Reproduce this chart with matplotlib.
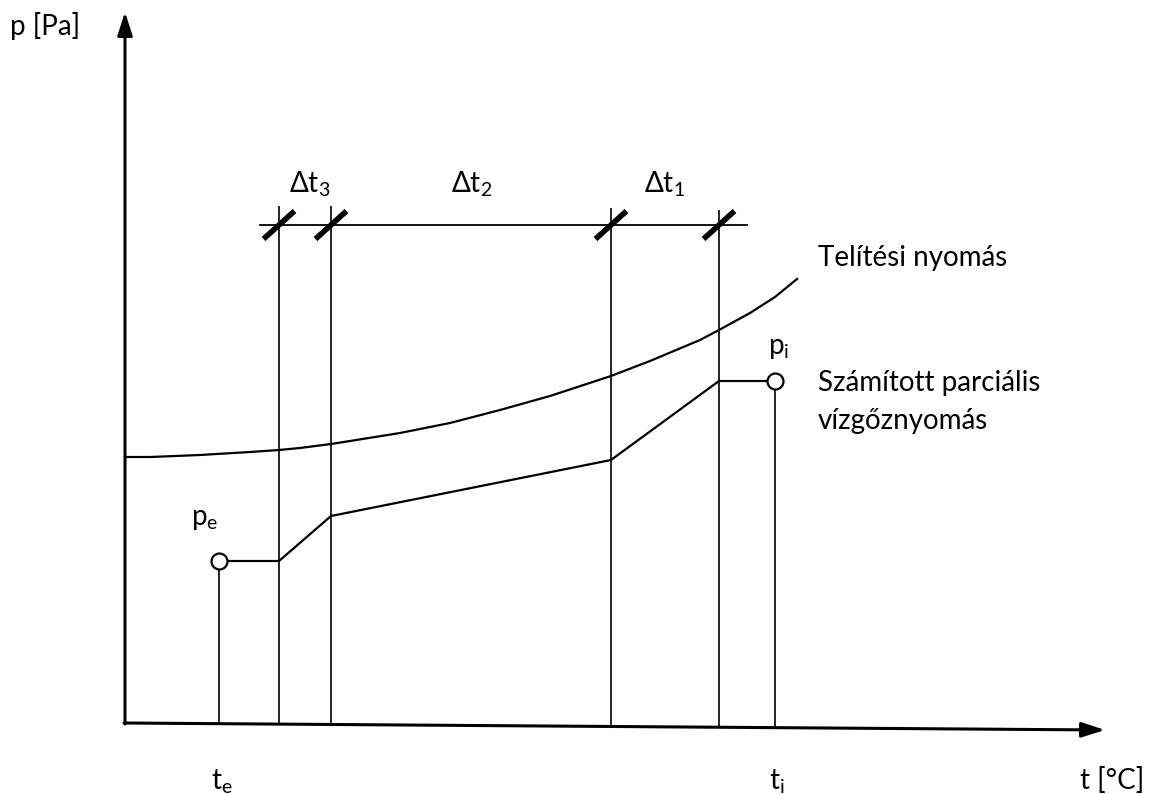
import matplotlib.pyplot as plt

# schematic coordinates (pixel-like units, y grows downward)
T_AXIS_Y = [723, 730]          # x axis drawn slightly slanted
T_AXIS_X = [125, 1105]
P_AXIS_X = 125
P_AXIS_TOP = 12

# layer boundaries (te, interfaces, ti)
t_e = 219
t_bounds = [279, 331, 611, 719]
t_i = 775
bound_top = [206, 206, 208, 210]
dim_line_y = 225
dim_line_x = [260, 747]

# saturation pressure curve
sat_t = [125, 150, 200, 250, 279, 300, 331, 350, 400, 450, 500, 550, 611, 650, 700, 719, 750, 775, 797]
sat_p = [457, 457, 455, 452, 450, 448, 444, 441, 433, 423, 410, 396, 376, 361, 340, 330, 313, 297, 279]

# calculated partial vapour pressure
part_t = [219, 279, 331, 611, 719, 775]
part_p = [561, 561, 516, 460, 381, 381]

dt_labels = ['Δt$_\\mathregular{3}$', 'Δt$_\\mathregular{2}$', 'Δt$_\\mathregular{1}$']
dt_label_x = [310, 472, 664]

plt.rcParams['font.family'] = ['Lato', 'DejaVu Sans']
plt.rcParams['mathtext.fontset'] = 'custom'
plt.rcParams['mathtext.rm'] = 'Lato'

fig = plt.figure(figsize=(11.54, 7.94), dpi=100)
ax = fig.add_axes([0, 0, 1, 1])
ax.set_xlim(0, 1154)
ax.set_ylim(794, 0)
ax.axis('off')

K = 'black'
FS = 20

# axes with arrows
ax.annotate('', xy=(P_AXIS_X, P_AXIS_TOP), xytext=(P_AXIS_X, T_AXIS_Y[0] + 1),
            arrowprops=dict(arrowstyle='-|>,head_length=1.4,head_width=0.45', lw=2.2, color=K,
                            shrinkA=0, shrinkB=0))
ax.annotate('', xy=(T_AXIS_X[1], T_AXIS_Y[1]), xytext=(T_AXIS_X[0] - 1, T_AXIS_Y[0]),
            arrowprops=dict(arrowstyle='-|>,head_length=1.4,head_width=0.45', lw=2.2, color=K,
                            shrinkA=0, shrinkB=0))

def axis_y(x):
    return T_AXIS_Y[0] + (T_AXIS_Y[1] - T_AXIS_Y[0]) * (x - T_AXIS_X[0]) / (T_AXIS_X[1] - T_AXIS_X[0])

# vertical lines at layer boundaries
for x, top in zip(t_bounds, bound_top):
    ax.plot([x, x], [axis_y(x), top], color=K, lw=1.2, solid_capstyle='butt')
ax.plot([t_e, t_e], [axis_y(t_e), part_p[0]], color=K, lw=1.2)
ax.plot([t_i, t_i], [axis_y(t_i), part_p[-1]], color=K, lw=1.2)

# dimension line with slashes
ax.plot(dim_line_x, [dim_line_y, dim_line_y], color=K, lw=1.3)
for x in t_bounds:
    ax.plot([x - 15.5, x + 15.5], [dim_line_y + 14, dim_line_y - 14], color=K, lw=4,
            solid_capstyle='butt')

for lab, x in zip(dt_labels, dt_label_x):
    ax.text(x, 192, lab, fontsize=FS, ha='center', va='baseline')

# curves
ax.plot(sat_t, sat_p, color=K, lw=1.6, solid_joinstyle='round')
ax.plot(part_t, part_p, color=K, lw=1.6, zorder=3)
ax.plot([part_t[0], part_t[-1]], [part_p[0], part_p[-1]], 'o', ms=11.5, mfc='white',
        mec=K, mew=1.6, zorder=4)

# labels
ax.text(10, 35, 'p [Pa]', fontsize=FS, ha='left', va='baseline')
ax.text(1112, 789, 't [°C]', fontsize=FS, ha='center', va='baseline')
ax.text(222, 789, 't$_\\mathregular{e}$', fontsize=FS, ha='center', va='baseline')
ax.text(777, 789, 't$_\\mathregular{i}$', fontsize=FS, ha='center', va='baseline')
ax.text(205, 525, 'p$_\\mathregular{e}$', fontsize=FS, ha='center', va='baseline')
ax.text(779, 354, 'p$_\\mathregular{i}$', fontsize=FS, ha='center', va='baseline')
ax.text(818, 266, 'Telítési nyomás', fontsize=FS, ha='left', va='baseline')
ax.text(818, 391, 'Számított parciális', fontsize=FS, ha='left', va='baseline')
ax.text(818, 429, 'vízgőznyomás', fontsize=FS, ha='left', va='baseline')

fig.savefig('out.png', dpi=100, facecolor='white')
